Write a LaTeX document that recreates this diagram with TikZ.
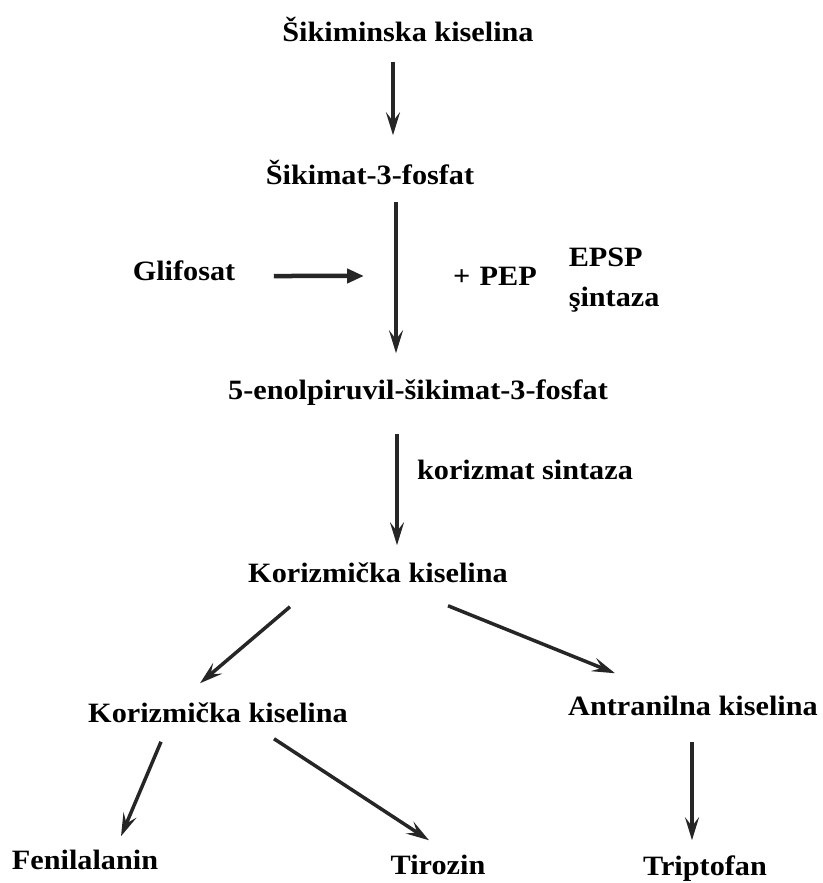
\documentclass[tikz,border=0pt]{standalone}
\usepackage{fontspec}
\setmainfont{Liberation Serif}[FakeStretch=1.08]
\usetikzlibrary{arrows.meta}
\begin{document}
\begin{tikzpicture}[x=1pt,y=-1pt,line width=3.5pt,
	txt/.style={inner sep=0pt,text height=20pt,text depth=6pt,font=\fontsize{28}{34}\selectfont\bfseries},
	pfeil/.style={draw=black!85,-{Stealth[length=23pt,width=14pt,inset=9pt]}},
	pfeilg/.style={draw=black!85,line width=4.5pt,-{Triangle[length=17pt,width=14pt]}}]
			\useasboundingbox (0,0) rectangle (822,883);
			%%Stoffe
			\node[txt] (sik) at (408,35) {Šikiminska kiselina};
			\node[txt] (skf) at (370,177) {Šikimat-3-fosfat};
			\node[txt] (glif) at (184,273) {Glifosat};
			\node[txt] (pep) at (495,278) {+\,\,PEP};
			\node[txt,text height=,text depth=,align=left,anchor=west,font=\fontsize{28}{40}\selectfont\bfseries] (epsp) at (567,280) {EPSP\\şintaza};
			\node[txt] (esk) at (418,392) {5-enolpiruvil-šikimat-3-fosfat};
			\node[txt] (ks) at (525,472) {korizmat sintaza};
			\node[txt] (kor) at (378,575) {Korizmička kiselina};
			\node[txt] (korb) at (218,715) {Korizmička kiselina};
			\node[txt] (antr) at (693,708) {Antranilna kiselina};
			\node[txt] (fen) at (85,862) {Fenilalanin};
			\node[txt] (tir) at (438,867) {Tirozin};
			\node[txt] (trip) at (705,868) {Triptofan};
		
			%%Pfeile
			\draw[pfeil] ([shift={(-15,12)}]sik.south) -- ([shift={(23,-27)}]skf.north);
			\draw[pfeil] ([shift={(26,10)}]skf.south) -- coordinate[pos=0.49] (mitte) ([shift={(-22,-24)}]esk.north);
			\draw[pfeilg] ([shift={(37,3)}]glif.east) -- ([xshift=-32pt]mitte);
			\draw[pfeil] ([shift={(-21,27)}]esk.south) -- ([shift={(19,-15)}]kor.north);
			\draw[pfeil] ([shift={(-88,17)}]kor.south) -- ([shift={(-18,-17)}]korb.north);
			\draw[pfeil] ([shift={(70,16)}]kor.south) -- ([shift={(-78,-20)}]antr.north);
			\draw[pfeil] ([shift={(-57,12)}]korb.south) -- ([shift={(36,-11)}]fen.north);
			\draw[pfeil] ([shift={(56,9)}]korb.south) -- ([shift={(-9,-12)}]tir.north);
			\draw[pfeil] ([shift={(-1,19)}]antr.south) -- ([shift={(-13,-13)}]trip.north);
		\end{tikzpicture}
\end{document}
